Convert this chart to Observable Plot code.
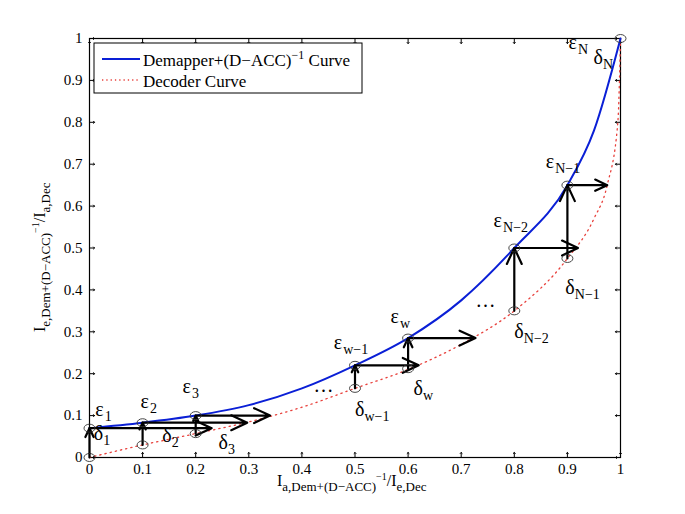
<!DOCTYPE html>
<html><head><meta charset="utf-8">
<script src="https://cdn.jsdelivr.net/npm/d3@7"></script>
<script src="https://cdn.jsdelivr.net/npm/@observablehq/plot@0.6"></script>
<style>body{margin:0;background:#fff} svg text{font-family:'Liberation Serif','Times New Roman',Times,'DejaVu Serif',serif !important}</style>
</head><body><div id="chart"></div>
<script>
// Demapper+(D-ACC)^-1 curve
const demX = [0, 0.1, 0.2, 0.3, 0.4, 0.5, 0.6, 0.7, 0.8, 0.9, 0.95, 1];
const demY = [0.07, 0.083, 0.1, 0.125, 0.165, 0.22, 0.285, 0.375, 0.5, 0.65, 0.78, 1];
// Decoder curve
const decX = [0, 0.1, 0.2, 0.3, 0.4, 0.5, 0.6, 0.7, 0.8, 0.9, 0.95, 0.975, 0.995, 1];
const decY = [0, 0.03, 0.057, 0.085, 0.12, 0.165, 0.21, 0.27, 0.35, 0.475, 0.57, 0.65, 0.8, 1];
// trajectory points
const stepX = [0, 0.1, 0.2, 0.5, 0.6, 0.8, 0.9];
const stepLow = [0, 0.03, 0.057, 0.165, 0.212, 0.35, 0.475];
const stepHigh = [0.07, 0.083, 0.1, 0.22, 0.285, 0.5, 0.65];
const stepTip = [0.23, 0.297, 0.34, 0.62, 0.727, 0.92, 0.975];
// labels
const labBase = ["ε","ε","ε","δ","δ","δ","…","ε","ε","δ","δ","…","δ","ε","ε","δ","ε","δ"];
const labSub  = ["1","2","3","1","2","3","","w−1","w","w","w−1","","N−2","N−2","N−1","N−1","N","N"];
const labX = [0.011, 0.096, 0.175, 0.008, 0.137, 0.243, 0.422, 0.46, 0.567, 0.61, 0.5, 0.727, 0.8, 0.761, 0.859, 0.896, 0.902, 0.949];
const labY = [0.100, 0.117, 0.155, 0.041, 0.036, 0.021, 0.157, 0.26, 0.32, 0.148, 0.1, 0.36, 0.286, 0.549, 0.692, 0.391, 0.976, 0.94];
const ticks = [0, 0.1, 0.2, 0.3, 0.4, 0.5, 0.6, 0.7, 0.8, 0.9, 1];

const dem = demX.map((x, i) => ({x, y: demY[i]}));
const dec = decX.map((x, i) => ({x, y: decY[i]}));
const steps = stepX.map((x, i) => ({x, lo: stepLow[i], hi: stepHigh[i], tip: stepTip[i]}));
const labs = labBase.map((b, i) => ({b, s: labSub[i], x: labX[i], y: labY[i], bold: i === 0}));
const circles = [...steps.map(d => ({x: d.x, y: d.hi})), ...steps.map(d => ({x: d.x, y: d.lo})), {x: 1, y: 1}];

const ellipse = {draw(ctx, size) {
  const rx = 5.5, ry = 4, k = 0.5523;
  ctx.moveTo(rx, 0);
  ctx.bezierCurveTo(rx, ry * k, rx * k, ry, 0, ry);
  ctx.bezierCurveTo(-rx * k, ry, -rx, ry * k, -rx, 0);
  ctx.bezierCurveTo(-rx, -ry * k, -rx * k, -ry, 0, -ry);
  ctx.bezierCurveTo(rx * k, -ry, rx, -ry * k, rx, 0);
  ctx.closePath();
}};

const font = "'Liberation Serif','Times New Roman',Times,serif";
const fmt = d => d === 0 || d === 1 ? String(d) : d.toFixed(1);
const plot = Plot.plot({
  width: 685, height: 514,
  marginLeft: 89, marginRight: 65, marginTop: 38, marginBottom: 57,
  style: {fontFamily: font, background: "white"},
  x: {domain: [0, 1]},
  y: {domain: [0, 1]},
  marks: [
    Plot.axisX({ticks, tickSize: 0, tickPadding: 6, fontSize: 15, label: null, tickFormat: fmt, fill: "black"}),
    Plot.axisY({ticks, tickSize: 0, tickPadding: 7, fontSize: 15, label: null, tickFormat: fmt, fill: "black"}),
    Plot.frame({stroke: "black", strokeWidth: 1.2}),
    Plot.vector(ticks, {x: d => d, y: 0, length: 5, rotate: 0, anchor: "start", stroke: "black", strokeWidth: 1}),
    Plot.vector(ticks, {x: d => d, y: 1, length: 5, rotate: 180, anchor: "start", stroke: "black", strokeWidth: 1}),
    Plot.vector(ticks, {x: 0, y: d => d, length: 5, rotate: 90, anchor: "start", stroke: "black", strokeWidth: 1}),
    Plot.vector(ticks, {x: 1, y: d => d, length: 5, rotate: 270, anchor: "start", stroke: "black", strokeWidth: 1}),
    Plot.line(dec, {x: "x", y: "y", stroke: "#e8413c", strokeWidth: 1.3, strokeDasharray: "1.3,4", curve: "monotone-x"}),
    Plot.line(dem, {x: "x", y: "y", stroke: "#0a1fd6", strokeWidth: 2, curve: "monotone-x"}),
    Plot.arrow(steps, {x1: "x", y1: "lo", x2: "x", y2: "hi", stroke: "black", strokeWidth: 2.2, headLength: 12, headAngle: 50}),
    Plot.arrow(steps, {x1: "x", y1: "hi", x2: "tip", y2: "hi", stroke: "black", strokeWidth: 2.2, headLength: 12, headAngle: 50}),
    Plot.dot(circles, {x: "x", y: "y", symbol: ellipse, stroke: "#333", strokeWidth: 0.9, fill: "none"}),
    Plot.text(labs, {x: "x", y: "y", text: "b", textAnchor: "start", lineAnchor: "bottom", fontSize: 20, fontWeight: d => d.bold ? "bold" : "normal", fill: "black"}),
    Plot.text(labs, {x: "x", y: "y", text: "s", textAnchor: "start", lineAnchor: "bottom", fontSize: 14, fontWeight: d => d.bold ? "bold" : "normal", dx: 9.5, dy: 5, fill: "black"})
  ]
});
document.getElementById("chart").append(plot);

const svg = d3.select(plot);
// legend
const lg = svg.append("g").attr("font-size", 17).attr("text-anchor", "start").attr("fill", "black");
lg.append("rect").attr("x", 94).attr("y", 43).attr("width", 268).attr("height", 50).attr("fill", "white").attr("stroke", "black").attr("stroke-width", 1);
lg.append("line").attr("x1", 102).attr("x2", 140).attr("y1", 59).attr("y2", 59).attr("stroke", "#0a1fd6").attr("stroke-width", 2);
lg.append("line").attr("x1", 102).attr("x2", 140).attr("y1", 80).attr("y2", 80).attr("stroke", "#e8413c").attr("stroke-width", 1.3).attr("stroke-dasharray", "1.3,3");
const t1 = lg.append("text").attr("x", 143).attr("y", 66);
t1.append("tspan").text("Demapper+(D−ACC)");
t1.append("tspan").attr("dy", -7).attr("font-size", 12).text("−1");
t1.append("tspan").attr("dy", 7).text(" Curve");
lg.append("text").attr("x", 143).attr("y", 87).text("Decoder Curve");
// axis labels
function axisLabel(sel, sub1, sub2) {
  sel.append("tspan").text("I");
  sel.append("tspan").attr("dy", 5).attr("font-size", 13).text(sub1);
  sel.append("tspan").attr("dy", -11).attr("font-size", 10).text("−1");
  sel.append("tspan").attr("dy", 6).attr("font-size", 16).text("/I");
  sel.append("tspan").attr("dy", 5).attr("font-size", 13).text(sub2);
}
const xl = svg.append("text").attr("font-size", 16).attr("text-anchor", "start").attr("fill", "black").attr("x", 277).attr("y", 486);
axisLabel(xl, "a,Dem+(D−ACC)", "e,Dec");
const yl = svg.append("text").attr("font-size", 16).attr("text-anchor", "start").attr("fill", "black").attr("transform", "translate(45,332) rotate(-90)");
axisLabel(yl, "e,Dem+(D−ACC)", "a,Dec");
</script></body></html>
